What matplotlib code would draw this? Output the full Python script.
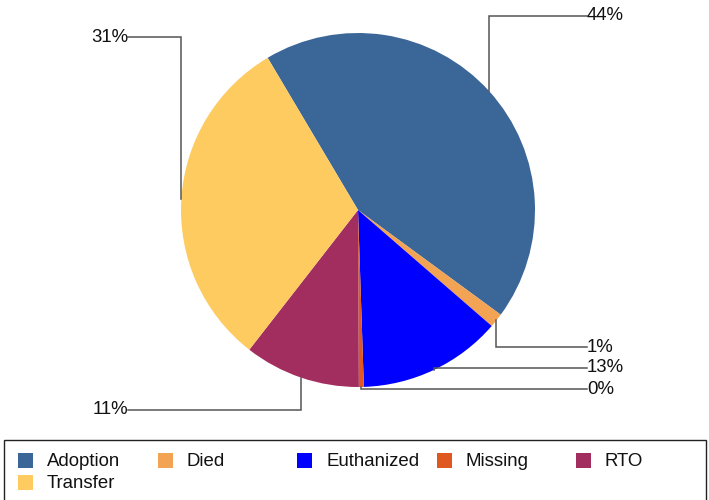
import matplotlib
matplotlib.use("Agg")
import matplotlib.pyplot as plt
from matplotlib.patches import Rectangle
import numpy as np

plt.rcParams["font.family"] = ["Liberation Sans", "DejaVu Sans"]

# data (percent of outcomes)
categories = ["Adoption", "Died", "Euthanized", "Missing", "RTO", "Transfer"]
values = [43.6, 1.3, 13.1, 0.45, 10.6, 30.95]
colors = ["#3b6698", "#f2a354", "#0000ff", "#de581f", "#a22d5f", "#fdcb5f"]

# label layout: side and y position (pixels from top) for each slice
label_side = ["right", "right", "right", "right", "left", "left"]
label_y = [16, 347, 368, 389, 410, 37]

W, H = 709, 500
fig = plt.figure(figsize=(W / 100, H / 100), dpi=100)
ax = fig.add_axes([0, 0, 1, 1])

center = (358, H - 210)
radius = 177
wedges, _ = ax.pie(values, colors=colors, startangle=120.7, counterclock=False,
                   center=center, radius=radius, frame=True,
                   wedgeprops=dict(linewidth=0))
ax.set_xlim(0, W)
ax.set_ylim(0, H)
ax.set_aspect("equal")
ax.axis("off")

x_right, x_left = 587, 128
for w, v, side, ly in zip(wedges, values, label_side, label_y):
    mid = np.deg2rad((w.theta1 + w.theta2) / 2)
    ax_x = center[0] + radius * np.cos(mid)
    ax_y = center[1] + radius * np.sin(mid)
    ty = H - ly
    tx = x_right if side == "right" else x_left
    ax.plot([ax_x, ax_x, tx], [ax_y, ty, ty], color="#555555", lw=1.1,
            solid_joinstyle="miter")
    ax.text(tx, ty, f"{round(v)}%", fontsize=13.4, va="center",
            ha="left" if side == "right" else "right", color="#111111")

# legend box
ax.add_patch(Rectangle((4, -2), 702, H - 440 + 2, fill=False,
                       edgecolor="#222222", lw=1))
for i, (cat, c) in enumerate(zip(categories, colors)):
    col, row = i % 5, i // 5
    x0 = 18 + col * 139.5
    yc = H - (460 + row * 22)
    ax.add_patch(Rectangle((x0, yc - 7.5), 15, 15, facecolor=c, lw=0))
    ax.text(x0 + 29, yc - 1, cat, fontsize=13.4, va="center", ha="left",
            color="#111111")

fig.savefig("out.png", dpi=100)
